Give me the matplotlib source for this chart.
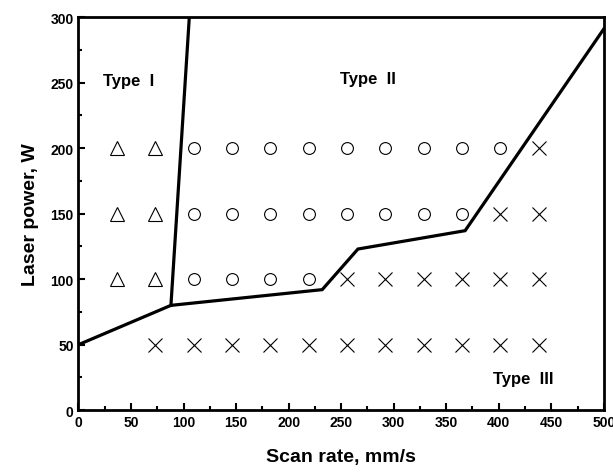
import matplotlib.pyplot as plt
from matplotlib.ticker import MultipleLocator

plt.rcParams["font.family"] = ["Liberation Sans", "DejaVu Sans"]

# scan rates used in the experiments (mm/s)
scan_rates = [36.5, 73, 109.5, 146, 182.5, 219, 255.5, 292, 328.5, 365, 401.5, 438]

# Type I (triangles)
tri_x = [36.5, 73, 36.5, 73, 36.5, 73]
tri_y = [200, 200, 150, 150, 100, 100]

# Type II (circles)
circ_x = (scan_rates[2:11] + scan_rates[2:10] + scan_rates[2:6])
circ_y = [200] * 9 + [150] * 8 + [100] * 4

# Type III (crosses)
cross_x = (scan_rates[11:] + scan_rates[10:] + scan_rates[6:] + scan_rates[1:])
cross_y = [200] * 1 + [150] * 2 + [100] * 6 + [50] * 11

# boundary lines
lower_x = [0, 88, 232, 266, 368, 500]
lower_y = [50, 80, 92, 123, 137, 291]
upper_x = [88, 105.5]
upper_y = [80, 300]

fig = plt.figure(figsize=(6.13, 4.77), dpi=100)
ax = fig.add_axes([0.128, 0.138, 0.857, 0.824])

ax.plot(lower_x, lower_y, color="black", lw=2.3, solid_joinstyle="miter", zorder=3)
ax.plot(upper_x, upper_y, color="black", lw=2.3, zorder=3)

ax.plot(tri_x, tri_y, ls="none", marker="^", ms=10, mfc="none", mec="black", mew=0.8)
ax.plot(circ_x, circ_y, ls="none", marker="o", ms=8.5, mfc="none", mec="black", mew=0.8)
ax.plot(cross_x, cross_y, ls="none", marker="x", ms=9.5, mec="black", mew=0.8)

ax.text(23, 252, "Type  I", fontsize=12, fontweight="bold", va="center")
ax.text(249, 253, "Type  II", fontsize=12, fontweight="bold", va="center")
ax.text(395, 24, "Type  III", fontsize=12, fontweight="bold", va="center")

ax.set_xlim(0, 500)
ax.set_ylim(0, 300)
ax.xaxis.set_major_locator(MultipleLocator(50))
ax.xaxis.set_minor_locator(MultipleLocator(25))
ax.yaxis.set_major_locator(MultipleLocator(50))
ax.yaxis.set_minor_locator(MultipleLocator(25))
ax.tick_params(which="both", direction="in", width=1.5, labelsize=10)
ax.tick_params(which="major", length=5)
ax.tick_params(which="minor", length=3)
for lab in ax.get_xticklabels() + ax.get_yticklabels():
    lab.set_fontweight("bold")

for sp in ax.spines.values():
    sp.set_linewidth(2)

ax.set_xlabel("Scan rate, mm/s", fontsize=14, fontweight="bold", labelpad=14)
ax.set_ylabel("Laser power, W", fontsize=14, fontweight="bold", labelpad=8)

fig.savefig("out.png", dpi=100)
